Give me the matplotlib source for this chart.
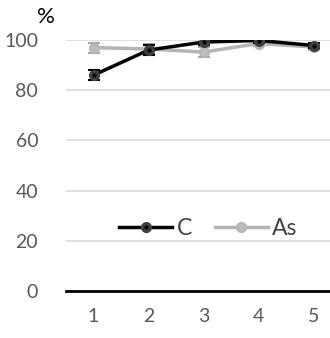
import matplotlib.pyplot as plt
from matplotlib.lines import Line2D

x_vals = [1, 2, 3, 4, 5]
c_vals = [86.0, 96.0, 99.2, 99.8, 97.8]
c_err = [2.0, 2.0, 1.0, 0.8, 1.0]
as_vals = [97.0, 96.4, 95.2, 98.6, 97.2]
as_err = [2.0, 2.0, 2.0, 1.0, 1.0]
y_ticks = [0, 20, 40, 60, 80, 100]

plt.rcParams['font.family'] = ['Lato', 'DejaVu Sans']

fig = plt.figure(figsize=(3.30, 3.38), dpi=100)
ax = fig.add_axes([66 / 330, 1 - 291 / 338, 264 / 330, (291 - 40) / 338])

ax.errorbar(x_vals, as_vals, yerr=as_err, color='#b4b4b4', lw=2.5, marker='o', ms=7,
            mfc='#bcbcbc', mec='#b4b4b4', ecolor='#a8a8a8', elinewidth=1.5, capsize=4,
            capthick=1.5, zorder=3)
ax.errorbar(x_vals, c_vals, yerr=c_err, color='#000000', lw=2.5, marker='o', ms=7,
            mfc='#3f3f3f', mec='#3f3f3f', ecolor='#000000', elinewidth=1.5, capsize=4,
            capthick=1.5, zorder=4)
ax.plot(x_vals, c_vals, ls='none', marker='o', ms=2, color='black', zorder=5)

ax.set_xlim(0.5, 5.29)
ax.set_ylim(0, 100)
ax.set_yticks(y_ticks)
ax.set_xticks(x_vals)
ax.grid(axis='y', color='#d9d9d9', lw=1.2)
ax.set_axisbelow(True)
for s in ['top', 'right', 'left']:
    ax.spines[s].set_visible(False)
ax.spines['bottom'].set_color('black')
ax.spines['bottom'].set_linewidth(2)
ax.spines['bottom'].set_zorder(6)
ax.tick_params(length=0, labelsize=14, colors='#595959', pad=12)
ax.tick_params(axis='y', pad=20)

h_c = Line2D([], [], color='black', lw=2.5, marker='o', ms=7, mfc='#3f3f3f', mec='#3f3f3f')
h_dot = Line2D([], [], ls='none', marker='o', ms=2, color='black')
h_as = Line2D([], [], color='#b4b4b4', lw=2.5, marker='o', ms=7, mfc='#bcbcbc', mec='#b4b4b4')
leg = ax.legend([(h_c, h_dot), h_as], ['C', 'As'], loc='center', bbox_to_anchor=(0.54, 0.25),
                ncol=2, frameon=False, fontsize=16.5, handlelength=2.3, columnspacing=1.0,
                handletextpad=0.2, labelcolor='#404040')

fig.text(37 / 330, 1 - 17 / 338, '%', fontsize=16, color='black', va='center')

fig.savefig('out.png', dpi=100)
